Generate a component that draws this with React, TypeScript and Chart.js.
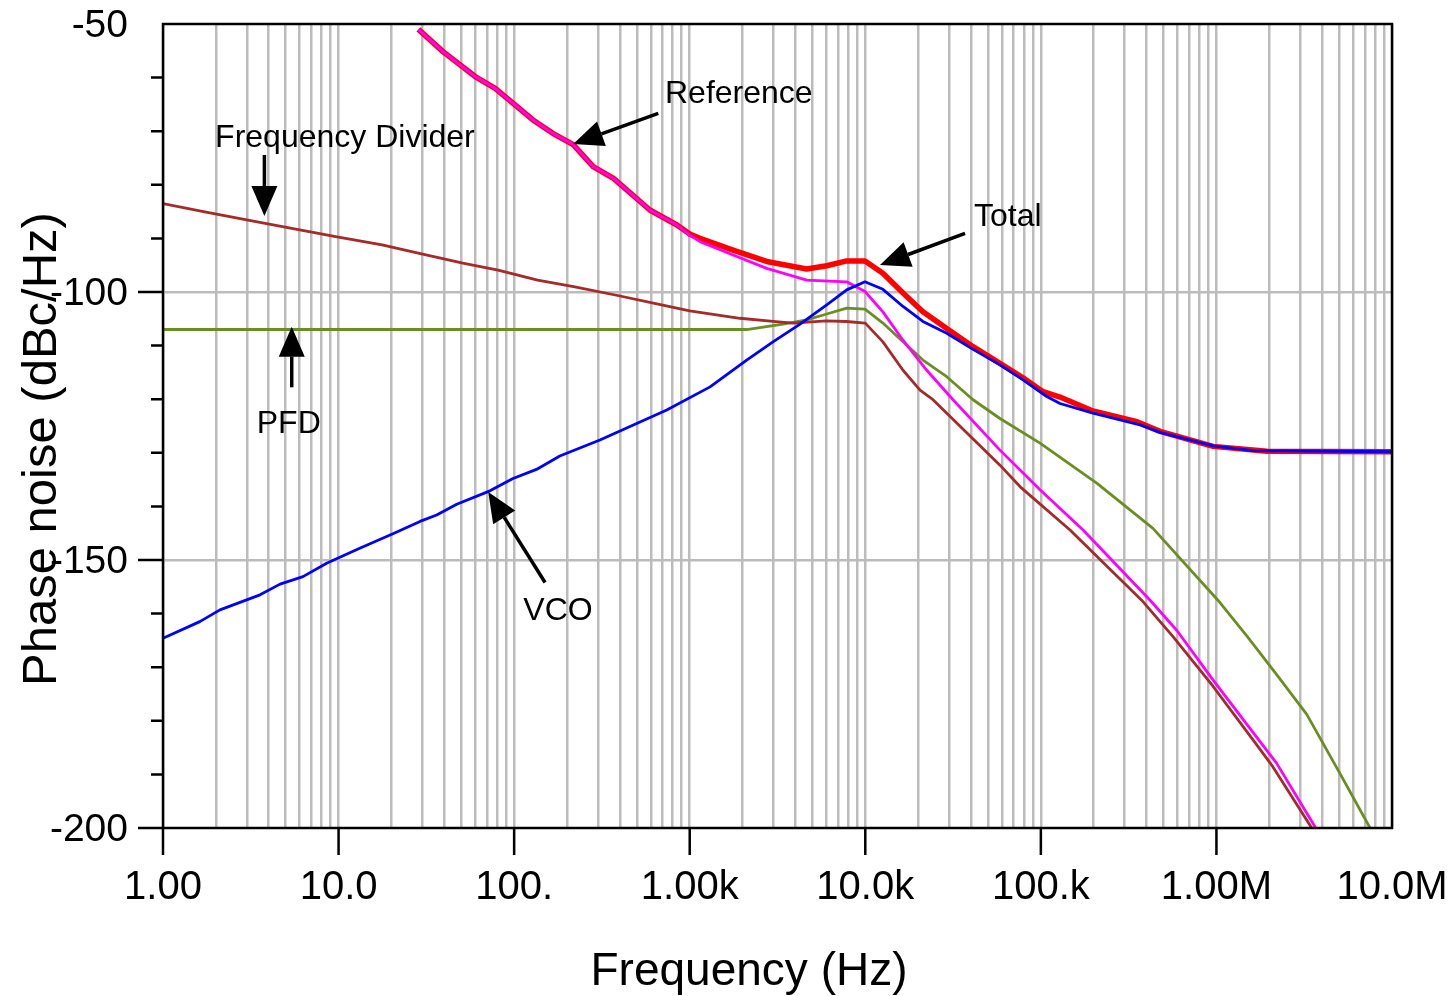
import React, { useEffect, useRef } from 'react';
import { Chart, registerables } from 'chart.js';

Chart.register(...registerables);

// ---- axes ----
const xDecades = [1, 10, 100, 1e3, 1e4, 1e5, 1e6, 1e7];
const xTickLabels = ['1.00', '10.0', '100.', '1.00k', '10.0k', '100.k', '1.00M', '10.0M'];
const yMajorTicks = [-50, -100, -150, -200];
const yTickLabels = ['-50', '-100', '-150', '-200'];
const yGridValues = [-100, -150];
const xTitle = 'Frequency (Hz)';
const yTitle = 'Phase noise (dBc/Hz)';

// ---- series ----
const dividerFreq = [1, 1.7, 3.05, 5.8, 9.8, 17.7, 28, 51, 81, 136, 218, 395, 630, 1000, 1930, 2980, 3875, 6000, 7800, 10000, 12600, 16400, 20500, 24300, 58500, 76000, 146600, 375000, 566000, 958000, 1620000, 2100000, 3490000, 3700000];
const dividerDb = [-83.5, -85.0, -86.6, -88.3, -89.7, -91.2, -92.7, -94.6, -95.9, -97.8, -99.0, -100.7, -102.1, -103.5, -104.9, -105.5, -105.8, -105.4, -105.5, -105.8, -109.3, -114.6, -118.3, -120.1, -132.3, -136.3, -144.4, -157.5, -164.3, -173.6, -183.6, -188.6, -200.0, -201.5];

const pfdFreq = [1, 10, 100, 1000, 2110, 3400, 4640, 6030, 7840, 9960, 12600, 16400, 21300, 29100, 41100, 58500, 98900, 209000, 435000, 1020000, 1500000, 2160000, 3270000, 5050000, 7500000, 8000000];
const pfdDb = [-107.0, -107.0, -107.0, -107.0, -107.0, -106.0, -105.2, -104.1, -103.0, -103.2, -105.8, -109.3, -112.7, -115.8, -120.1, -123.6, -128.2, -135.7, -144.1, -157.5, -164.3, -171.0, -178.8, -189.8, -200.0, -202.0];

const vcoFreq = [1, 1.62, 2.11, 3.57, 4.64, 6.27, 8.55, 13.2, 20.4, 29.1, 36.2, 47.1, 72.8, 98.5, 134, 182, 308, 740, 1306, 2110, 2980, 4250, 6030, 7840, 9960, 12600, 16400, 21300, 29100, 41100, 58500, 79100, 108000, 128500, 198000, 367000, 477000, 958000, 1620000, 10000000];
const vcoDb = [-164.6, -161.5, -159.3, -156.5, -154.5, -153.1, -150.6, -147.8, -145.1, -142.8, -141.6, -139.6, -137.1, -134.8, -133.1, -130.6, -127.6, -122.0, -117.7, -112.7, -109.3, -106.0, -102.4, -99.6, -98.1, -99.5, -102.7, -105.5, -107.7, -110.7, -113.6, -116.4, -119.5, -120.8, -122.6, -124.8, -126.2, -128.7, -129.6, -129.8];

const refFreq = [28.5, 39.5, 60, 78, 128, 166, 217, 282, 368, 593, 846, 1000, 1145, 1766, 2745, 4640, 7840, 9960, 12600, 16400, 22400, 31600, 58500, 98900, 174000, 419000, 594000, 958000, 1690000, 2200000, 3650000, 3900000];
const refDb = [-51.0, -55.2, -59.8, -62.0, -67.9, -70.4, -72.5, -76.6, -78.8, -84.7, -87.5, -89.4, -90.6, -93.1, -95.6, -97.8, -98.1, -99.9, -103.7, -109.0, -114.6, -120.1, -129.5, -136.9, -144.4, -157.5, -163.1, -172.4, -183.0, -187.9, -199.8, -202.0];

const totalFreq = [28.5, 39.5, 60, 78, 128, 166, 217, 282, 368, 593, 846, 1000, 1145, 1766, 2745, 4640, 6030, 7840, 9960, 12600, 16400, 21300, 29100, 41100, 58500, 79100, 103000, 128500, 198000, 353000, 477000, 958000, 1940000, 10000000];
const totalDb = [-51.0, -55.2, -59.8, -62.0, -67.9, -70.4, -72.5, -76.6, -78.8, -84.7, -87.5, -89.2, -90.0, -92.2, -94.3, -95.7, -95.1, -94.2, -94.2, -96.5, -100.2, -103.7, -106.8, -110.2, -113.3, -116.0, -118.6, -119.6, -122.2, -124.2, -126.0, -128.8, -129.7, -129.8];

// ---- annotations (text baseline-left and arrows, in data coordinates) ----
const annotationTexts = ['Reference', 'Frequency Divider', 'Total', 'PFD', 'VCO'];
const annotationTextFreq = [723, 1.98, 41600, 3.42, 112.8];
const annotationTextDb = [-64.8, -72.9, -87.7, -126.25, -161.2];
const arrowTailFreq = [662, 3.78, 37000, 5.41, 150];
const arrowTailDb = [-66.66, -74.44, -89.05, -117.78, -154.2];
const arrowTipFreq = [217, 3.78, 12130, 5.41, 71.2];
const arrowTipDb = [-72.39, -85.82, -94.96, -106.47, -137.3];

const FONT = "'Liberation Sans', Arial, Helvetica, sans-serif";

const pts = (fs: number[], ds: number[]) => fs.map((f, i) => ({ x: f, y: ds[i] }));

const xTickValues: number[] = (() => {
  const out: number[] = [];
  for (let d = 0; d < xDecades.length - 1; d++) {
    for (let m = 1; m <= 9; m++) out.push(xDecades[d] * m);
  }
  out.push(xDecades[xDecades.length - 1]);
  return out;
})();

const decadeIndex = (v: number) => xDecades.findIndex((d) => Math.abs(v - d) / d < 1e-9);

const zeroPadding = (scale: any) => {
  scale.paddingTop = 0;
  scale.paddingBottom = 0;
  scale.paddingLeft = 0;
  scale.paddingRight = 0;
};

const decorPlugin = {
  id: 'decor',
  afterDatasetsDraw(chart: any) {
    const ctx = chart.ctx;
    const xs = chart.scales.x;
    const ys = chart.scales.y;
    ctx.save();
    ctx.fillStyle = '#000';
    ctx.strokeStyle = '#000';
    ctx.font = `32px ${FONT}`;
    ctx.textAlign = 'left';
    ctx.textBaseline = 'alphabetic';
    annotationTexts.forEach((t, i) => {
      ctx.fillText(t, xs.getPixelForValue(annotationTextFreq[i]), ys.getPixelForValue(annotationTextDb[i]));
      const x0 = xs.getPixelForValue(arrowTailFreq[i]);
      const y0 = ys.getPixelForValue(arrowTailDb[i]);
      const x1 = xs.getPixelForValue(arrowTipFreq[i]);
      const y1 = ys.getPixelForValue(arrowTipDb[i]);
      const ang = Math.atan2(y1 - y0, x1 - x0);
      const headLen = 30;
      const headHalf = 13;
      const bx = x1 - headLen * Math.cos(ang);
      const by = y1 - headLen * Math.sin(ang);
      ctx.lineWidth = 3.5;
      ctx.beginPath();
      ctx.moveTo(x0, y0);
      ctx.lineTo(bx, by);
      ctx.stroke();
      ctx.beginPath();
      ctx.moveTo(x1, y1);
      ctx.lineTo(bx + headHalf * Math.sin(ang), by - headHalf * Math.cos(ang));
      ctx.lineTo(bx - headHalf * Math.sin(ang), by + headHalf * Math.cos(ang));
      ctx.closePath();
      ctx.fill();
    });
    ctx.restore();
  },
  afterDraw(chart: any) {
    const ctx = chart.ctx;
    const a = chart.chartArea;
    const xs = chart.scales.x;
    const ys = chart.scales.y;
    ctx.save();
    ctx.strokeStyle = '#000';
    ctx.lineWidth = 2.5;
    ctx.strokeRect(a.left, a.top, a.right - a.left, a.bottom - a.top);
    ctx.beginPath();
    xDecades.slice(0, -1).forEach((d) => {
      const px = xs.getPixelForValue(d);
      ctx.moveTo(px, a.bottom);
      ctx.lineTo(px, a.bottom + 27);
    });
    for (let v = -200; v < -50; v += 10) {
      const py = ys.getPixelForValue(v);
      const len = yMajorTicks.includes(v) ? 25 : 12;
      ctx.moveTo(a.left - len, py);
      ctx.lineTo(a.left, py);
    }
    ctx.stroke();
    ctx.fillStyle = '#000';
    ctx.textBaseline = 'alphabetic';
    ctx.textAlign = 'center';
    ctx.font = `46px ${FONT}`;
    ctx.fillText(xTitle, 749, 985);
    ctx.translate(56, 449);
    ctx.rotate(-Math.PI / 2);
    ctx.font = `49px ${FONT}`;
    ctx.fillText(yTitle, 0, 0);
    ctx.restore();
  },
};

export default function App() {
  const ref = useRef<HTMLCanvasElement | null>(null);
  useEffect(() => {
    if (!ref.current) return;
    const thin = 2.8;
    const chart = new Chart(ref.current, {
      type: 'line',
      data: {
        datasets: [
          { label: 'VCO', data: pts(vcoFreq, vcoDb), borderColor: '#0000ff', borderWidth: thin },
          { label: 'Reference', data: pts(refFreq, refDb), borderColor: '#ff00ff', borderWidth: thin },
          { label: 'Frequency Divider', data: pts(dividerFreq, dividerDb), borderColor: '#a52a2a', borderWidth: thin },
          { label: 'PFD', data: pts(pfdFreq, pfdDb), borderColor: '#6b8e23', borderWidth: thin },
          { label: 'Total', data: pts(totalFreq, totalDb), borderColor: '#ff0000', borderWidth: 5.5 },
        ],
      },
      options: {
        animation: false,
        responsive: false,
        devicePixelRatio: 1,
        parsing: true,
        elements: {
          point: { radius: 0, hoverRadius: 0 },
          line: { tension: 0, fill: false, borderJoinStyle: 'round', borderCapStyle: 'butt' },
        },
        layout: { padding: { top: 24, right: 60, bottom: 0, left: 0 } },
        plugins: { legend: { display: false }, tooltip: { enabled: false }, title: { display: false } },
        scales: {
          x: {
            type: 'logarithmic',
            position: 'bottom',
            min: 1,
            max: 1e7,
            afterBuildTicks: (scale: any) => {
              scale.ticks = xTickValues.map((v) => ({ value: v }));
            },
            afterFit: (scale: any) => {
              scale.height = 168;
              zeroPadding(scale);
            },
            ticks: {
              autoSkip: false,
              maxRotation: 0,
              minRotation: 0,
              color: '#000',
              padding: 36,
              font: { family: FONT, size: 40 },
              callback: (v: any) => {
                const i = decadeIndex(Number(v));
                return i >= 0 ? xTickLabels[i] : '';
              },
            },
            grid: { color: '#bcbcbc', lineWidth: 2.5, drawTicks: false },
            border: { display: false },
          },
          y: {
            type: 'linear',
            min: -200,
            max: -50,
            afterFit: (scale: any) => {
              scale.width = 163;
              zeroPadding(scale);
            },
            ticks: {
              stepSize: 10,
              autoSkip: false,
              color: '#000',
              padding: 35,
              labelOffset: 2,
              font: { family: FONT, size: 39 },
              callback: (v: any) => {
                const i = yMajorTicks.indexOf(Number(v));
                return i >= 0 ? yTickLabels[i] : '';
              },
            },
            grid: {
              color: (c: any) => (c.tick && yGridValues.includes(c.tick.value) ? '#bcbcbc' : 'rgba(0,0,0,0)'),
              lineWidth: 2.5,
              drawTicks: false,
            },
            border: { display: false },
          },
        },
      },
      plugins: [decorPlugin],
    } as any);
    return () => chart.destroy();
  }, []);
  return (
    <div style={{ position: 'fixed', left: 0, top: 0, width: 1452, height: 996, background: '#fff' }}>
      <canvas ref={ref} width={1452} height={996} style={{ display: 'block', width: 1452, height: 996 }} />
    </div>
  );
}
